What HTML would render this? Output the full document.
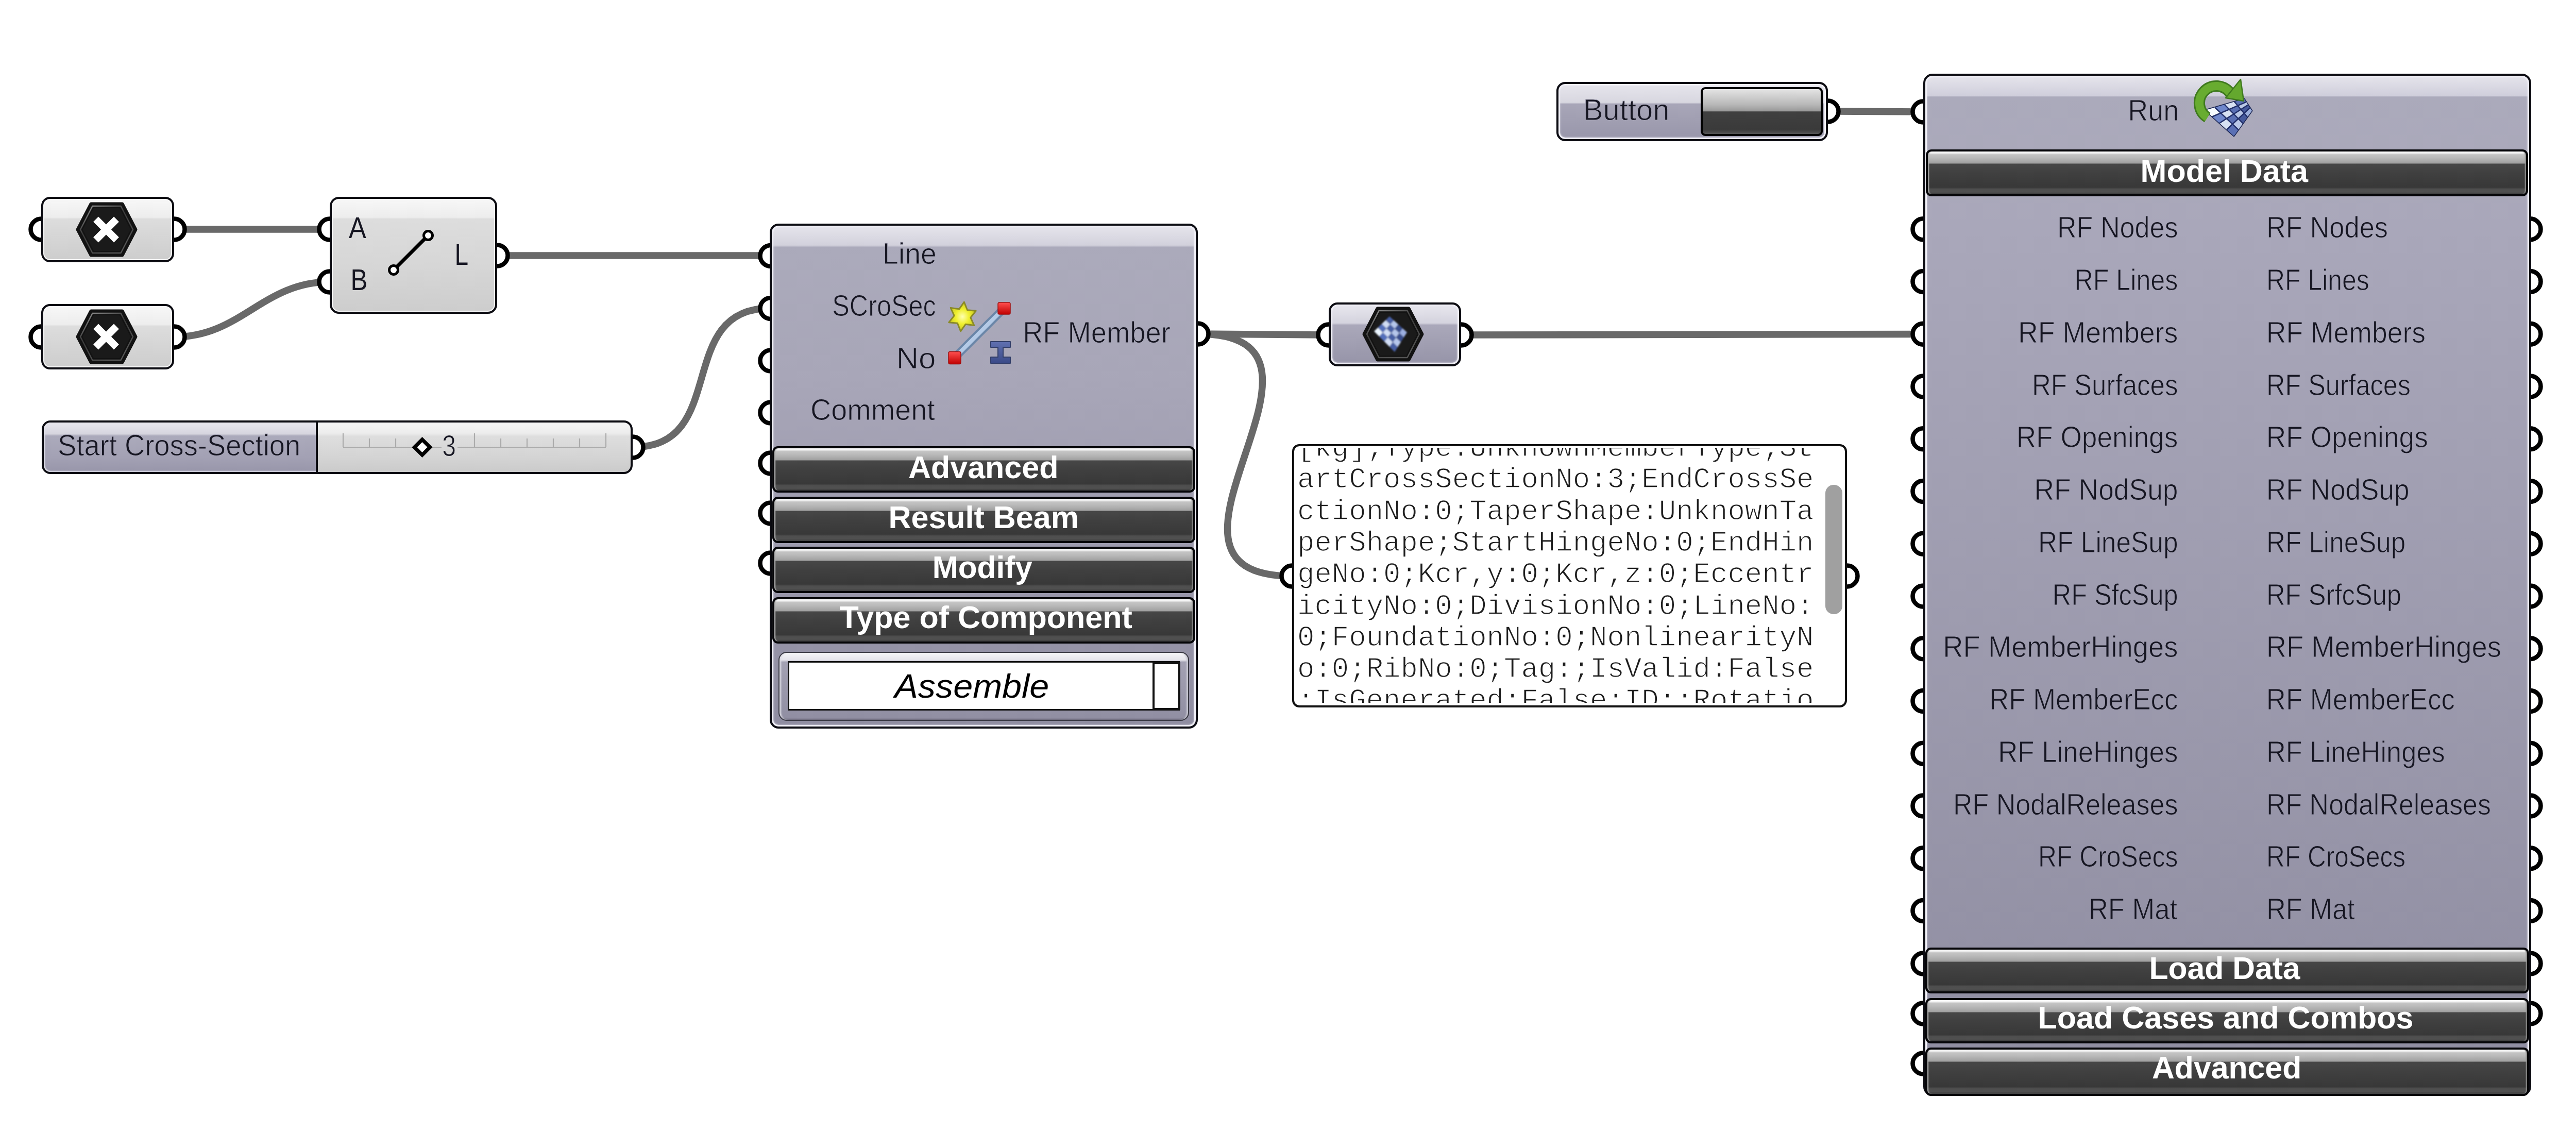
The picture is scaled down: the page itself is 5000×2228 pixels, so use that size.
<!DOCTYPE html><html><head><meta charset="utf-8"><style>
*{margin:0;padding:0;box-sizing:border-box}
html,body{width:5000px;height:2228px;background:#fff;overflow:hidden;font-family:"Liberation Sans",sans-serif}
.ab{position:absolute}
.comp{position:absolute;border:4px solid #0c0c12;border-radius:18px;overflow:hidden}
.gray{background:linear-gradient(#f7f7f7 0px,#ededed 36px,#dddddd 39px,#d6d6d6 60%,#cdcdcd 100%);box-shadow:inset 0 0 0 2px #fafafa}
.lav{box-shadow:inset 0 0 0 3px #f0eff6,inset 0 0 3px 4px rgba(235,234,242,0.45)}
.hdr{position:absolute;border:4px solid #050508;border-radius:11px;background:linear-gradient(#fbfbfb 0px,#f4f4f4 3px,#c4c4c4 6px,#bababa 12px,#a2a2a2 22px,#9e9e9e 23px,#474747 24px,#404040 50%,#383838 84%,#4e4e4e 88%,#505050 95%,#3a3a3a 100%);box-shadow:inset 3px 0 2px -1px #b0b0b0,inset -3px 0 2px -1px #909090}
</style></head><body>
<svg class="ab" style="left:0;top:0" width="5000" height="2228"><line x1="338" y1="445" x2="640" y2="445" stroke="#696969" stroke-width="13.5"/><path d="M338 654 C468 654 510 547 640 547" fill="none" stroke="#696969" stroke-width="13.5"/><line x1="965" y1="496" x2="1496" y2="496" stroke="#696969" stroke-width="13.5"/><path d="M1228 868 C1418 868 1306 598 1496 598" fill="none" stroke="#696969" stroke-width="13.5"/><line x1="2325" y1="648" x2="2579" y2="650" stroke="#696969" stroke-width="13.5"/><path d="M2325 648 C2665 648 2168 1118 2508 1118" fill="none" stroke="#696969" stroke-width="13.5"/><line x1="2836" y1="650" x2="3733" y2="648.5" stroke="#696969" stroke-width="13.5"/><line x1="3548" y1="216" x2="3733" y2="217" stroke="#696969" stroke-width="13.5"/><circle cx="80" cy="445" r="20.5" fill="#fff" stroke="#000" stroke-width="8.5"/><circle cx="338" cy="445" r="20.5" fill="#fff" stroke="#000" stroke-width="8.5"/><circle cx="80" cy="654" r="20.5" fill="#fff" stroke="#000" stroke-width="8.5"/><circle cx="338" cy="654" r="20.5" fill="#fff" stroke="#000" stroke-width="8.5"/><circle cx="640" cy="445" r="20.5" fill="#fff" stroke="#000" stroke-width="8.5"/><circle cx="640" cy="547" r="20.5" fill="#fff" stroke="#000" stroke-width="8.5"/><circle cx="965" cy="496" r="20.5" fill="#fff" stroke="#000" stroke-width="8.5"/><circle cx="1228" cy="868" r="20.5" fill="#fff" stroke="#000" stroke-width="8.5"/><circle cx="1496" cy="496.5" r="20.5" fill="#fff" stroke="#000" stroke-width="8.5"/><circle cx="1496" cy="598.5" r="20.5" fill="#fff" stroke="#000" stroke-width="8.5"/><circle cx="1496" cy="700" r="20.5" fill="#fff" stroke="#000" stroke-width="8.5"/><circle cx="1496" cy="801" r="20.5" fill="#fff" stroke="#000" stroke-width="8.5"/><circle cx="1496" cy="899" r="20.5" fill="#fff" stroke="#000" stroke-width="8.5"/><circle cx="1496" cy="996" r="20.5" fill="#fff" stroke="#000" stroke-width="8.5"/><circle cx="1496" cy="1093" r="20.5" fill="#fff" stroke="#000" stroke-width="8.5"/><circle cx="2325" cy="648" r="20.5" fill="#fff" stroke="#000" stroke-width="8.5"/><circle cx="2508" cy="1118" r="20.5" fill="#fff" stroke="#000" stroke-width="8.5"/><circle cx="3585" cy="1118" r="20.5" fill="#fff" stroke="#000" stroke-width="8.5"/><circle cx="2579" cy="650" r="20.5" fill="#fff" stroke="#000" stroke-width="8.5"/><circle cx="2836" cy="650" r="20.5" fill="#fff" stroke="#000" stroke-width="8.5"/><circle cx="3548" cy="216" r="20.5" fill="#fff" stroke="#000" stroke-width="8.5"/><circle cx="3733" cy="217" r="20.5" fill="#fff" stroke="#000" stroke-width="8.5"/><circle cx="3733" cy="444.8" r="20.5" fill="#fff" stroke="#000" stroke-width="8.5"/><circle cx="4911" cy="444.8" r="20.5" fill="#fff" stroke="#000" stroke-width="8.5"/><circle cx="3733" cy="546.5" r="20.5" fill="#fff" stroke="#000" stroke-width="8.5"/><circle cx="4911" cy="546.5" r="20.5" fill="#fff" stroke="#000" stroke-width="8.5"/><circle cx="3733" cy="648.3" r="20.5" fill="#fff" stroke="#000" stroke-width="8.5"/><circle cx="4911" cy="648.3" r="20.5" fill="#fff" stroke="#000" stroke-width="8.5"/><circle cx="3733" cy="750.0" r="20.5" fill="#fff" stroke="#000" stroke-width="8.5"/><circle cx="4911" cy="750.0" r="20.5" fill="#fff" stroke="#000" stroke-width="8.5"/><circle cx="3733" cy="851.8" r="20.5" fill="#fff" stroke="#000" stroke-width="8.5"/><circle cx="4911" cy="851.8" r="20.5" fill="#fff" stroke="#000" stroke-width="8.5"/><circle cx="3733" cy="953.5" r="20.5" fill="#fff" stroke="#000" stroke-width="8.5"/><circle cx="4911" cy="953.5" r="20.5" fill="#fff" stroke="#000" stroke-width="8.5"/><circle cx="3733" cy="1055.3" r="20.5" fill="#fff" stroke="#000" stroke-width="8.5"/><circle cx="4911" cy="1055.3" r="20.5" fill="#fff" stroke="#000" stroke-width="8.5"/><circle cx="3733" cy="1157.0" r="20.5" fill="#fff" stroke="#000" stroke-width="8.5"/><circle cx="4911" cy="1157.0" r="20.5" fill="#fff" stroke="#000" stroke-width="8.5"/><circle cx="3733" cy="1258.8" r="20.5" fill="#fff" stroke="#000" stroke-width="8.5"/><circle cx="4911" cy="1258.8" r="20.5" fill="#fff" stroke="#000" stroke-width="8.5"/><circle cx="3733" cy="1360.5" r="20.5" fill="#fff" stroke="#000" stroke-width="8.5"/><circle cx="4911" cy="1360.5" r="20.5" fill="#fff" stroke="#000" stroke-width="8.5"/><circle cx="3733" cy="1462.3" r="20.5" fill="#fff" stroke="#000" stroke-width="8.5"/><circle cx="4911" cy="1462.3" r="20.5" fill="#fff" stroke="#000" stroke-width="8.5"/><circle cx="3733" cy="1564.0" r="20.5" fill="#fff" stroke="#000" stroke-width="8.5"/><circle cx="4911" cy="1564.0" r="20.5" fill="#fff" stroke="#000" stroke-width="8.5"/><circle cx="3733" cy="1665.8" r="20.5" fill="#fff" stroke="#000" stroke-width="8.5"/><circle cx="4911" cy="1665.8" r="20.5" fill="#fff" stroke="#000" stroke-width="8.5"/><circle cx="3733" cy="1767.5" r="20.5" fill="#fff" stroke="#000" stroke-width="8.5"/><circle cx="4911" cy="1767.5" r="20.5" fill="#fff" stroke="#000" stroke-width="8.5"/><circle cx="3733" cy="1870" r="20.5" fill="#fff" stroke="#000" stroke-width="8.5"/><circle cx="4911" cy="1870" r="20.5" fill="#fff" stroke="#000" stroke-width="8.5"/><circle cx="3733" cy="1967" r="20.5" fill="#fff" stroke="#000" stroke-width="8.5"/><circle cx="4911" cy="1967" r="20.5" fill="#fff" stroke="#000" stroke-width="8.5"/><circle cx="3733" cy="2064" r="20.5" fill="#fff" stroke="#000" stroke-width="8.5"/></svg>
<div class="comp gray" style="left:80px;top:382px;width:258px;height:127px;border-radius:17px"></div>
<svg class="ab" style="left:0;top:0" width="400" height="800"><defs><linearGradient id="hg207445" x1="0" y1="0" x2="0.6" y2="1"><stop offset="0" stop-color="#9a9a9a"/><stop offset="0.45" stop-color="#3a3a3a"/><stop offset="1" stop-color="#555"/></linearGradient></defs><polygon points="151.0,445.5 176.76,396.0 237.24,396.0 263.0,445.5 237.24,495.0 176.76,495.0" fill="#121212" stroke="#121212" stroke-width="7" stroke-linejoin="round"/><polygon points="156.0,445.5 179.46,400.0 234.54,400.0 258.0,445.5 234.54,491.0 179.46,491.0" fill="none" stroke="url(#hg207445)" stroke-width="2.5" stroke-linejoin="round"/><polygon points="160.5,445.5 181.89,404.0 232.11,404.0 253.5,445.5 232.11,487.0 181.89,487.0" fill="#1a1a1a" stroke="none"/><path d="M191 430.5 L221 460.5 M221 430.5 L191 460.5" stroke="#fff" stroke-width="14" stroke-linecap="square"/></svg>
<div class="comp gray" style="left:80px;top:590px;width:258px;height:127px;border-radius:17px"></div>
<svg class="ab" style="left:0;top:0" width="400" height="800"><defs><linearGradient id="hg207653" x1="0" y1="0" x2="0.6" y2="1"><stop offset="0" stop-color="#9a9a9a"/><stop offset="0.45" stop-color="#3a3a3a"/><stop offset="1" stop-color="#555"/></linearGradient></defs><polygon points="151.0,653.5 176.76,604.0 237.24,604.0 263.0,653.5 237.24,703.0 176.76,703.0" fill="#121212" stroke="#121212" stroke-width="7" stroke-linejoin="round"/><polygon points="156.0,653.5 179.46,608.0 234.54,608.0 258.0,653.5 234.54,699.0 179.46,699.0" fill="none" stroke="url(#hg207653)" stroke-width="2.5" stroke-linejoin="round"/><polygon points="160.5,653.5 181.89,612.0 232.11,612.0 253.5,653.5 232.11,695.0 181.89,695.0" fill="#1a1a1a" stroke="none"/><path d="M191 638.5 L221 668.5 M221 638.5 L191 668.5" stroke="#fff" stroke-width="14" stroke-linecap="square"/></svg>
<div class="comp gray" style="left:640px;top:382px;width:325px;height:227px"></div>
<svg class="ab" style="left:0;top:0" width="1000" height="700"><line x1="764" y1="524" x2="831" y2="457" stroke="#000" stroke-width="7"/><circle cx="764" cy="524" r="8.5" fill="#fff" stroke="#000" stroke-width="5"/><circle cx="831" cy="457" r="8.5" fill="#fff" stroke="#000" stroke-width="5"/></svg>
<div class="comp" style="left:81px;top:816px;width:1147px;height:104px;border-radius:17px;background:linear-gradient(#f6f6f6,#ececec 22%,#dedede 28%,#d4d4d4 70%,#cbcbcb)"></div>
<div class="ab" style="left:85px;top:820px;width:530px;height:96px;border-radius:14px 0 0 14px;background:linear-gradient(#e8e7ee 0px,#d6d5df 22px,#abaabb 26px,#a3a1b4 70%,#9896aa 100%);box-shadow:inset 3px 0 2px -1px #e8e8f0,inset 0 -3px 2px -1px #d0d0dc"></div>
<div class="ab" style="left:613px;top:820px;width:4px;height:96px;background:#0c0c12"></div>
<svg class="ab" style="left:0;top:0" width="1300" height="1000"><line x1="666" y1="868" x2="857" y2="868" stroke="#ababab" stroke-width="2.2"/><line x1="888" y1="868" x2="1176" y2="868" stroke="#ababab" stroke-width="2.2"/><line x1="666" y1="841" x2="666" y2="868" stroke="#ababab" stroke-width="2.2"/><line x1="717" y1="851" x2="717" y2="868" stroke="#ababab" stroke-width="2.2"/><line x1="768" y1="851" x2="768" y2="868" stroke="#ababab" stroke-width="2.2"/><line x1="819" y1="851" x2="819" y2="868" stroke="#ababab" stroke-width="2.2"/><line x1="921" y1="841" x2="921" y2="868" stroke="#ababab" stroke-width="2.2"/><line x1="972" y1="851" x2="972" y2="868" stroke="#ababab" stroke-width="2.2"/><line x1="1023" y1="851" x2="1023" y2="868" stroke="#ababab" stroke-width="2.2"/><line x1="1074" y1="851" x2="1074" y2="868" stroke="#ababab" stroke-width="2.2"/><line x1="1125" y1="851" x2="1125" y2="868" stroke="#ababab" stroke-width="2.2"/><line x1="1176" y1="841" x2="1176" y2="868" stroke="#ababab" stroke-width="2.2"/><polygon points="819.5,853 834.5,868 819.5,883 804.5,868" fill="#fff" stroke="#000" stroke-width="7.2"/></svg>
<div class="comp lav" style="left:1494px;top:434px;width:831px;height:980px;border-radius:17px;background:linear-gradient(#e6e5ec 0px,#d2d1dc 38px,#abaabb 42px,#a8a6b8 300px,#8f8da1 100%)"></div>
<svg class="ab" style="left:0;top:0" width="2100" height="800">
<defs><radialGradient id="sg" cx="0.5" cy="0.5" r="0.5"><stop offset="0" stop-color="#ffffb0"/><stop offset="0.5" stop-color="#f0f030"/><stop offset="1" stop-color="#c8c820"/></radialGradient>
<linearGradient id="rg" x1="0" y1="0" x2="0" y2="1"><stop offset="0" stop-color="#ff5050"/><stop offset="1" stop-color="#c00000"/></linearGradient>
<linearGradient id="ig" x1="0" y1="0" x2="0" y2="1"><stop offset="0" stop-color="#6070b0"/><stop offset="1" stop-color="#3a4a88"/></linearGradient></defs>
<polygon points="1871.4,586.2 1877.6,601.7 1894.2,603.3 1883.9,616.4 1890.8,631.6 1874.3,629.2 1864.6,642.8 1858.4,627.3 1841.8,625.7 1852.1,612.6 1845.2,597.4 1861.7,599.8" fill="url(#sg)" stroke="#8a8a28" stroke-width="3" stroke-linejoin="round"/>
<line x1="1853" y1="694" x2="1949" y2="598" stroke="#6a86a8" stroke-width="16"/>
<line x1="1853" y1="694" x2="1949" y2="598" stroke="#b4cae6" stroke-width="8"/>
<rect x="1841" y="682.5" width="24" height="24" rx="3" fill="url(#rg)" stroke="#a01010" stroke-width="1.5"/>
<rect x="1937" y="587" width="24" height="23" rx="3" fill="url(#rg)" stroke="#a01010" stroke-width="1.5"/>
<path d="M1923 663 h38 v11 h-14 v19 h14 v12 h-38 v-12 h14 v-19 h-14z" fill="url(#ig)" stroke="#34406a" stroke-width="2" stroke-linejoin="round"/>
</svg>
<div class="hdr" style="left:1499px;top:866px;width:821px;height:90px"></div>
<div class="hdr" style="left:1499px;top:963.5px;width:821px;height:90px"></div>
<div class="hdr" style="left:1499px;top:1061px;width:821px;height:90px"></div>
<div class="hdr" style="left:1499px;top:1158.5px;width:821px;height:90px"></div>
<div class="ab" style="left:1511px;top:1265px;width:797px;height:134px;border:2.5px solid #3a3a44;border-radius:16px;background:linear-gradient(#f6f6f8 0px,#e4e3ea 14px,#a3a1b3 18px,#908ea2 100%);box-shadow:inset 5px 0 3px -2px #dcdce4,inset -5px 0 3px -2px #c8c8d2,inset 0 -3px 2px -1px #6a687a"></div>
<div class="ab" style="left:1529px;top:1283px;width:761px;height:96px;border:3px solid #111;background:#fff"></div>
<div class="ab" style="left:2237px;top:1285px;width:54px;height:93px;border:4px solid #111;background:#fff"></div>
<div class="ab" style="left:2508px;top:862px;width:1077px;height:511px;border:4px solid #111;border-radius:14px;background:#fff"></div>
<svg class="ab" style="left:2518px;top:869px" width="1020" height="495"><g font-family="Liberation Mono" font-size="55.7" fill="#1e1e1e" stroke="#fff" stroke-width="1.4" xml:space="preserve"><text x="0" y="16.0">[kg];Type:UnknownMemberType;St</text><text x="0" y="77.3">artCrossSectionNo:3;EndCrossSe</text><text x="0" y="138.6">ctionNo:0;TaperShape:UnknownTa</text><text x="0" y="199.9">perShape;StartHingeNo:0;EndHin</text><text x="0" y="261.2">geNo:0;Kcr,y:0;Kcr,z:0;Eccentr</text><text x="0" y="322.5">icityNo:0;DivisionNo:0;LineNo:</text><text x="0" y="383.8">0;FoundationNo:0;NonlinearityN</text><text x="0" y="445.1">o:0;RibNo:0;Tag:;IsValid:False</text><text x="0" y="506.4">;IsGenerated:False;ID:;Rotatio</text></g></svg>
<div class="ab" style="left:3543px;top:941px;width:33px;height:251px;border-radius:16px;background:#a0a0a0"></div>
<div class="comp lav" style="left:2579px;top:587px;width:257px;height:124px;border-radius:17px;background:linear-gradient(#e8e7ee 0px,#d4d3de 36px,#aaa8ba 40px,#9694a8 100%)"></div>
<svg class="ab" style="left:0;top:0" width="3000" height="800"><defs><linearGradient id="hg2704648" x1="0" y1="0" x2="0.6" y2="1"><stop offset="0" stop-color="#9a9a9a"/><stop offset="0.45" stop-color="#3a3a3a"/><stop offset="1" stop-color="#555"/></linearGradient></defs><polygon points="2648.0,648.5 2673.76,599.0 2734.24,599.0 2760.0,648.5 2734.24,698.0 2673.76,698.0" fill="#121212" stroke="#121212" stroke-width="7" stroke-linejoin="round"/><polygon points="2653.0,648.5 2676.46,603.0 2731.54,603.0 2755.0,648.5 2731.54,694.0 2676.46,694.0" fill="none" stroke="url(#hg2704648)" stroke-width="2.5" stroke-linejoin="round"/><polygon points="2657.5,648.5 2678.89,607.0 2729.11,607.0 2750.5,648.5 2729.11,690.0 2678.89,690.0" fill="#1a1a1a" stroke="none"/>
<defs><filter id="mblur" x="2640" y="590" width="120" height="120" filterUnits="userSpaceOnUse"><feGaussianBlur stdDeviation="1.6"/></filter></defs><g filter="url(#mblur)"><polygon points="2667.0,643.0 2674.5,635.8 2684.1,645.2 2677.0,653.0" fill="rgb(235,245,255)"/><polygon points="2677.0,653.0 2684.1,645.2 2693.8,654.6 2687.0,663.0" fill="rgb(83,111,188)"/><polygon points="2687.0,663.0 2693.8,654.6 2703.4,664.1 2697.0,673.0" fill="rgb(208,221,245)"/><polygon points="2697.0,673.0 2703.4,664.1 2713.0,673.5 2707.0,683.0" fill="rgb(70,95,165)"/><polygon points="2674.5,635.8 2682.0,628.5 2691.2,637.4 2684.1,645.2" fill="rgb(83,111,188)"/><polygon points="2684.1,645.2 2691.2,637.4 2700.5,646.2 2693.8,654.6" fill="rgb(208,221,245)"/><polygon points="2693.8,654.6 2700.5,646.2 2709.8,655.1 2703.4,664.1" fill="rgb(70,95,165)"/><polygon points="2703.4,664.1 2709.8,655.1 2719.0,664.0 2713.0,673.5" fill="rgb(181,198,235)"/><polygon points="2682.0,628.5 2689.5,621.2 2698.4,629.6 2691.2,637.4" fill="rgb(208,221,245)"/><polygon points="2691.2,637.4 2698.4,629.6 2707.2,637.9 2700.5,646.2" fill="rgb(70,95,165)"/><polygon points="2700.5,646.2 2707.2,637.9 2716.1,646.2 2709.8,655.1" fill="rgb(181,198,235)"/><polygon points="2709.8,655.1 2716.1,646.2 2725.0,654.5 2719.0,664.0" fill="rgb(56,78,141)"/><polygon points="2689.5,621.2 2697.0,614.0 2705.5,621.8 2698.4,629.6" fill="rgb(70,95,165)"/><polygon points="2698.4,629.6 2705.5,621.8 2714.0,629.5 2707.2,637.9" fill="rgb(181,198,235)"/><polygon points="2707.2,637.9 2714.0,629.5 2722.5,637.2 2716.1,646.2" fill="rgb(56,78,141)"/><polygon points="2716.1,646.2 2722.5,637.2 2731.0,645.0 2725.0,654.5" fill="rgb(155,175,225)"/></g></svg>
<div class="comp lav" style="left:3021px;top:159px;width:527px;height:115px;border-radius:17px;background:linear-gradient(#e6e5ec 0px,#d8d7e0 36px,#a8a6b8 39px,#9896aa 100%)"></div>
<div class="ab" style="left:3301px;top:169px;width:237px;height:95px;border:4px solid #000;border-radius:9px;background:linear-gradient(#e4e4e4 0px,#b8b8b8 30px,#9a9a9a 42px,#404040 44px,#3a3a3a 90%,#555 100%)"></div>
<div class="comp lav" style="left:3733px;top:143px;width:1180px;height:1984px;border-radius:18px;background:linear-gradient(#e6e5ec 0px,#cfcedb 39px,#abaabb 41px,#a9a7ba 300px,#8f8da1 100%)"></div>
<svg class="ab" style="left:0;top:0" width="4500" height="300">
<polygon points="4280,214 4356,192 4371,215 4336,264" fill="#2a3a70" stroke="#1a2450" stroke-width="3" stroke-linejoin="round"/>
<polygon points="4280.0,214.0 4299.0,208.5 4310.4,219.3 4294.0,226.5" fill="rgb(245,250,255)"/><polygon points="4294.0,226.5 4310.4,219.3 4321.9,230.1 4308.0,239.0" fill="rgb(110,134,203)"/><polygon points="4308.0,239.0 4321.9,230.1 4333.3,240.9 4322.0,251.5" fill="rgb(215,225,243)"/><polygon points="4322.0,251.5 4333.3,240.9 4344.8,251.8 4336.0,264.0" fill="rgb(90,112,180)"/><polygon points="4299.0,208.5 4318.0,203.0 4326.9,212.1 4310.4,219.3" fill="rgb(110,134,203)"/><polygon points="4310.4,219.3 4326.9,212.1 4335.8,221.2 4321.9,230.1" fill="rgb(215,225,243)"/><polygon points="4321.9,230.1 4335.8,221.2 4344.6,230.4 4333.3,240.9" fill="rgb(90,112,180)"/><polygon points="4333.3,240.9 4344.6,230.4 4353.5,239.5 4344.8,251.8" fill="rgb(185,200,231)"/><polygon points="4318.0,203.0 4337.0,197.5 4343.3,204.9 4326.9,212.1" fill="rgb(215,225,243)"/><polygon points="4326.9,212.1 4343.3,204.9 4349.6,212.4 4335.8,221.2" fill="rgb(90,112,180)"/><polygon points="4335.8,221.2 4349.6,212.4 4355.9,219.8 4344.6,230.4" fill="rgb(185,200,231)"/><polygon points="4344.6,230.4 4355.9,219.8 4362.2,227.2 4353.5,239.5" fill="rgb(70,90,156)"/><polygon points="4337.0,197.5 4356.0,192.0 4359.8,197.8 4343.3,204.9" fill="rgb(90,112,180)"/><polygon points="4343.3,204.9 4359.8,197.8 4363.5,203.5 4349.6,212.4" fill="rgb(185,200,231)"/><polygon points="4349.6,212.4 4363.5,203.5 4367.2,209.2 4355.9,219.8" fill="rgb(70,90,156)"/><polygon points="4355.9,219.8 4367.2,209.2 4371.0,215.0 4362.2,227.2" fill="rgb(155,175,220)"/>
<path d="M4299.0 208.5 L4344.8 251.8 M4294.0 226.5 L4359.8 197.8 M4318.0 203.0 L4353.5 239.5 M4308.0 239.0 L4363.5 203.5 M4337.0 197.5 L4362.2 227.2 M4322.0 251.5 L4367.2 209.2" stroke="#22306a" stroke-width="2.5"/>
<path d="M4284.5 228.0 A33 33 0 1 1 4329.0 181.1" fill="none" stroke="#3f7a1e" stroke-width="22"/>
<path d="M4284.5 228.0 A33 33 0 1 1 4329.0 181.1" fill="none" stroke="#68ac30" stroke-width="16"/>
<polygon points="4320,190 4349,154 4355,196" fill="#64a82e" stroke="#3f7a1e" stroke-width="2.5" stroke-linejoin="round"/>
</svg>
<div class="hdr" style="left:3738px;top:290px;width:1169px;height:91px"></div>
<div class="hdr" style="left:3737px;top:1839px;width:1172px;height:88.5px"></div>
<div class="hdr" style="left:3737px;top:1936.5px;width:1172px;height:88.5px"></div>
<div class="hdr" style="left:3737px;top:2033px;width:1172px;height:94px"></div>
<svg class="ab" style="left:0;top:0" width="5000" height="2228" font-family="Liberation Sans"><g><text transform="translate(677.0,462) scale(0.8947,1)" font-size="56.5" fill="#161622">A</text><text transform="translate(680.52,563) scale(0.871,1)" font-size="56.5" fill="#161622">B</text><text transform="translate(882.62,514) scale(0.8462,1)" font-size="56.5" fill="#161622">L</text><text transform="translate(112.08,883.7) scale(0.962,1)" font-size="56.5" fill="#161622" stroke="#a5a3b6" stroke-width="1.0">Start Cross-Section</text><text transform="translate(858.3,884.5) scale(0.8519,1)" font-size="56.5" fill="#161622" stroke="#d9d9d9" stroke-width="1.0">3</text><text transform="translate(3072.9,232.5) scale(1.0261,1)" font-size="56.5" fill="#161622" stroke="#a5a3b5" stroke-width="1.0">Button</text><text transform="translate(4130.18,234) scale(0.9561,1)" font-size="56.5" fill="#161622" stroke="#aba9bb" stroke-width="1.0">Run</text><text transform="translate(1713.08,512) scale(0.9811,1)" font-size="56.5" fill="#161622" stroke="#abaabb" stroke-width="1.0">Line</text><text transform="translate(1615.22,613) scale(0.8908,1)" font-size="56.5" fill="#161622" stroke="#aaa8ba" stroke-width="1.0">SCroSec</text><text transform="translate(1739.75,715) scale(1.0628,1)" font-size="56.5" fill="#161622" stroke="#a8a7b8" stroke-width="1.0">No</text><text transform="translate(1573.03,815) scale(0.9868,1)" font-size="56.5" fill="#161622" stroke="#a6a4b6" stroke-width="1.0">Comment</text><text transform="translate(1985.16,664.7) scale(0.9611,1)" font-size="56.5" fill="#161622" stroke="#a9a8b9" stroke-width="1.0">RF Member</text><text transform="translate(3993.01,461.3) scale(0.9218,1)" font-size="56.5" fill="#161622" stroke="#a9a7ba" stroke-width="1.0">RF Nodes</text><text transform="translate(4398.88,461.3) scale(0.929,1)" font-size="56.5" fill="#161622" stroke="#a9a7ba" stroke-width="1.0">RF Nodes</text><text transform="translate(4026.44,563.05) scale(0.8889,1)" font-size="56.5" fill="#161622" stroke="#a7a5b9" stroke-width="1.0">RF Lines</text><text transform="translate(4399.07,563.05) scale(0.8835,1)" font-size="56.5" fill="#161622" stroke="#a7a5b9" stroke-width="1.0">RF Lines</text><text transform="translate(3917.0,664.8) scale(0.951,1)" font-size="56.5" fill="#161622" stroke="#a6a4b7" stroke-width="1.0">RF Members</text><text transform="translate(4398.81,664.8) scale(0.9476,1)" font-size="56.5" fill="#161622" stroke="#a6a4b7" stroke-width="1.0">RF Members</text><text transform="translate(3943.89,766.55) scale(0.9031,1)" font-size="56.5" fill="#161622" stroke="#a5a3b6" stroke-width="1.0">RF Surfaces</text><text transform="translate(4399.03,766.55) scale(0.8914,1)" font-size="56.5" fill="#161622" stroke="#a4a2b5" stroke-width="1.0">RF Surfaces</text><text transform="translate(3913.63,868.3) scale(0.9428,1)" font-size="56.5" fill="#161622" stroke="#a3a1b4" stroke-width="1.0">RF Openings</text><text transform="translate(4398.83,868.3) scale(0.9435,1)" font-size="56.5" fill="#161622" stroke="#a3a1b4" stroke-width="1.0">RF Openings</text><text transform="translate(3948.52,970.05) scale(0.9456,1)" font-size="56.5" fill="#161622" stroke="#a19fb2" stroke-width="1.0">RF NodSup</text><text transform="translate(4398.83,970.05) scale(0.9414,1)" font-size="56.5" fill="#161622" stroke="#a19fb2" stroke-width="1.0">RF NodSup</text><text transform="translate(3955.96,1071.8) scale(0.9104,1)" font-size="56.5" fill="#161622" stroke="#a09eb1" stroke-width="1.0">RF LineSup</text><text transform="translate(4398.98,1071.8) scale(0.906,1)" font-size="56.5" fill="#161622" stroke="#a09eb1" stroke-width="1.0">RF LineSup</text><text transform="translate(3983.73,1173.55) scale(0.8926,1)" font-size="56.5" fill="#161622" stroke="#9e9caf" stroke-width="1.0">RF SfcSup</text><text transform="translate(4399.01,1173.55) scale(0.8975,1)" font-size="56.5" fill="#161622" stroke="#9e9caf" stroke-width="1.0">RF SrfcSup</text><text transform="translate(3771.35,1275.3) scale(0.9621,1)" font-size="56.5" fill="#161622" stroke="#9c9aae" stroke-width="1.0">RF MemberHinges</text><text transform="translate(4398.75,1275.3) scale(0.9626,1)" font-size="56.5" fill="#161622" stroke="#9c9aae" stroke-width="1.0">RF MemberHinges</text><text transform="translate(3861.27,1377.05) scale(0.9332,1)" font-size="56.5" fill="#161622" stroke="#9b99ac" stroke-width="1.0">RF MemberEcc</text><text transform="translate(4398.87,1377.05) scale(0.9327,1)" font-size="56.5" fill="#161622" stroke="#9b99ac" stroke-width="1.0">RF MemberEcc</text><text transform="translate(3878.26,1478.8) scale(0.9344,1)" font-size="56.5" fill="#161622" stroke="#9997ab" stroke-width="1.0">RF LineHinges</text><text transform="translate(4398.89,1478.8) scale(0.9285,1)" font-size="56.5" fill="#161622" stroke="#9997ab" stroke-width="1.0">RF LineHinges</text><text transform="translate(3790.92,1580.55) scale(0.9206,1)" font-size="56.5" fill="#161622" stroke="#9896a9" stroke-width="1.0">RF NodalReleases</text><text transform="translate(4398.92,1580.55) scale(0.92,1)" font-size="56.5" fill="#161622" stroke="#9795a9" stroke-width="1.0">RF NodalReleases</text><text transform="translate(3956.07,1682.3) scale(0.8819,1)" font-size="56.5" fill="#161622" stroke="#9694a8" stroke-width="1.0">RF CroSecs</text><text transform="translate(4399.09,1682.3) scale(0.8776,1)" font-size="56.5" fill="#161622" stroke="#9694a8" stroke-width="1.0">RF CroSecs</text><text transform="translate(4053.88,1784.05) scale(0.9295,1)" font-size="56.5" fill="#161622" stroke="#9593a7" stroke-width="1.0">RF Mat</text><text transform="translate(4398.89,1784.05) scale(0.9278,1)" font-size="56.5" fill="#161622" stroke="#9492a6" stroke-width="1.0">RF Mat</text></g><text transform="translate(4154.6,353)" font-size="61" font-weight="bold" fill="#ffffff">Model Data</text><text transform="translate(1762.9,928.2)" font-size="61" font-weight="bold" fill="#ffffff">Advanced</text><text transform="translate(1724.4,1024.6)" font-size="61" font-weight="bold" fill="#ffffff">Result Beam</text><text transform="translate(1809.65,1122) scale(0.9876,1)" font-size="61" font-weight="bold" fill="#ffffff">Modify</text><text transform="translate(1629.6,1219)" font-size="61" font-weight="bold" fill="#ffffff">Type of Component</text><text transform="translate(4171.52,1899.5) scale(0.994,1)" font-size="61" font-weight="bold" fill="#ffffff">Load Data</text><text transform="translate(3955.6,1996)" font-size="61" font-weight="bold" fill="#ffffff">Load Cases and Combos</text><text transform="translate(4177.0,2093) scale(0.9956,1)" font-size="61" font-weight="bold" fill="#ffffff">Advanced</text><text transform="translate(1736.27,1354) scale(1.0677,1)" font-size="64" font-style="italic" fill="#000">Assemble</text></svg>
</body></html>
